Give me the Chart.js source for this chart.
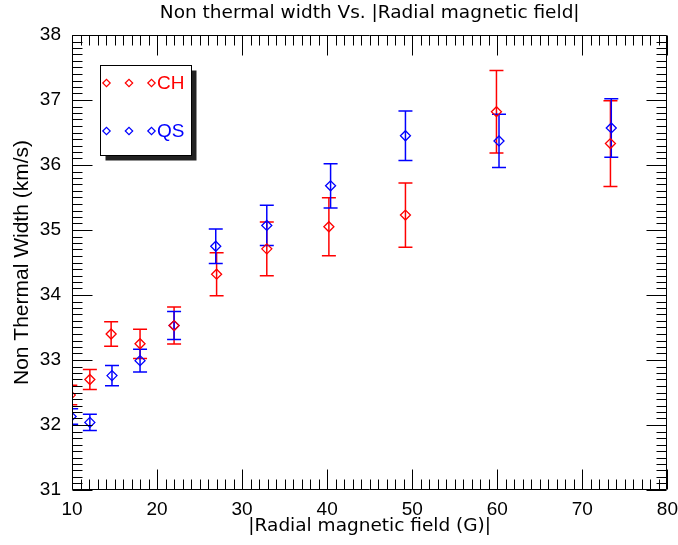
<!DOCTYPE html>
<html lang="en">

<head>
    <meta charset="UTF-8">
    <title>Non thermal width</title>
    <script src="https://cdn.jsdelivr.net/npm/chart.js"></script>
    <style>
        html, body { margin: 0; padding: 0; background: #fff; }
    </style>
</head>

<body>
    <canvas id="grafico" width="678" height="545"></canvas>

<script>
    // |B_r| (G) and non thermal width (km/s) with half error bars
    var chCampo = [9.8, 12.1, 14.6, 18.0, 22.0, 27.0, 32.9, 40.2, 49.2, 59.9, 73.3];
    var chLargura = [32.46, 32.70, 33.40, 33.25, 33.53, 34.32, 34.71, 35.05, 35.23, 36.82, 36.33];
    var chErro = [0.15, 0.155, 0.19, 0.225, 0.285, 0.33, 0.415, 0.445, 0.495, 0.635, 0.66];

    var qsCampo = [9.9, 12.1, 14.7, 18.0, 22.0, 26.9, 32.9, 40.4, 49.2, 60.2, 73.4];
    var qsLargura = [32.13, 32.04, 32.76, 32.99, 33.53, 34.75, 35.07, 35.68, 36.45, 36.37, 36.57];
    var qsErro = [0.12, 0.125, 0.155, 0.175, 0.215, 0.265, 0.31, 0.34, 0.38, 0.41, 0.45];

    var ticksX = [10, 20, 30, 40, 50, 60, 70, 80];
    var ticksY = [31, 32, 33, 34, 35, 36, 37, 38];

    var VERMELHO = '#ff0000';
    var AZUL = '#0000ff';

    function pontos(xs, ys) {
        return xs.map(function (x, i) { return { x: x, y: ys[i] }; });
    }

    function losango(ctx, x, y, r) {
        ctx.beginPath();
        ctx.moveTo(x - r, y);
        ctx.lineTo(x, y - r);
        ctx.lineTo(x + r, y);
        ctx.lineTo(x, y + r);
        ctx.closePath();
        ctx.stroke();
    }

    // barras de erro, desenhadas com as escalas do grafico
    var barrasErro = {
        id: 'barrasErro',
        beforeDatasetsDraw: function (chart) {
            var ctx = chart.ctx;
            var a = chart.chartArea;
            var sx = chart.scales.x, sy = chart.scales.y;
            ctx.save();
            ctx.beginPath();
            ctx.rect(a.left, a.top, a.right - a.left, a.bottom - a.top);
            ctx.clip();
            chart.data.datasets.forEach(function (ds) {
                ctx.strokeStyle = ds.borderColor;
                ctx.lineWidth = 1.5;
                ds.data.forEach(function (p, i) {
                    var px = sx.getPixelForValue(p.x);
                    var y1 = sy.getPixelForValue(p.y + ds.erro[i]);
                    var y2 = sy.getPixelForValue(p.y - ds.erro[i]);
                    ctx.beginPath();
                    ctx.moveTo(px, y1);
                    ctx.lineTo(px, y2);
                    ctx.moveTo(px - 7, y1);
                    ctx.lineTo(px + 7, y1);
                    ctx.moveTo(px - 7, y2);
                    ctx.lineTo(px + 7, y2);
                    ctx.stroke();
                });
            });
            ctx.restore();
        }
    };

    // moldura com tracinhos para dentro nos quatro lados
    var moldura = {
        id: 'moldura',
        afterDatasetsDraw: function (chart) {
            var ctx = chart.ctx;
            var a = chart.chartArea;
            var sx = chart.scales.x, sy = chart.scales.y;
            var l = Math.round(a.left) + 0.5, r = Math.round(a.right) - 0.5;
            var t = Math.round(a.top) + 0.5, b = Math.round(a.bottom) - 0.5;
            ctx.save();
            ctx.strokeStyle = '#000';
            ctx.lineWidth = 1;
            ctx.beginPath();
            ctx.rect(l, t, r - l, b - t);
            for (var v = 10; v <= 80; v++) {
                var px = Math.round(sx.getPixelForValue(v)) + 0.5;
                var len = (v % 10 === 0) ? 20 : 10;
                ctx.moveTo(px, b); ctx.lineTo(px, b - len);
                ctx.moveTo(px, t); ctx.lineTo(px, t + len);
            }
            for (var k = 310; k <= 380; k++) {
                var py = Math.round(sy.getPixelForValue(k / 10)) + 0.5;
                var lenY = (k % 10 === 0) ? 20 : 10;
                ctx.moveTo(l, py); ctx.lineTo(l + lenY, py);
                ctx.moveTo(r, py); ctx.lineTo(r - lenY, py);
            }
            ctx.stroke();
            ctx.restore();
        },
        afterDraw: function (chart) {
            // caixa de legenda com sombra
            var ctx = chart.ctx;
            var bx = 100.5, by = 65.5, bw = 91, bh = 90;
            ctx.save();
            ctx.fillStyle = '#222';
            ctx.fillRect(bx + 5, by + 5, bw, bh);
            ctx.fillStyle = '#fff';
            ctx.fillRect(bx, by, bw, bh);
            ctx.strokeStyle = '#000';
            ctx.lineWidth = 1;
            ctx.strokeRect(bx, by, bw, bh);
            var linhas = [
                { texto: 'CH', cor: VERMELHO, y: 83 },
                { texto: 'QS', cor: AZUL, y: 131 }
            ];
            ctx.font = '19px "Liberation Sans", Arial, sans-serif';
            ctx.textBaseline = 'middle';
            linhas.forEach(function (ln) {
                ctx.strokeStyle = ln.cor;
                ctx.lineWidth = 1.2;
                [106.5, 129, 151.5].forEach(function (x) { losango(ctx, x, ln.y, 3.7); });
                ctx.fillStyle = ln.cor;
                ctx.fillText(ln.texto, 157, ln.y + 1);
            });
            ctx.restore();
        }
    };

    const ctx = document.getElementById('grafico');

    new Chart(ctx, {
        type: 'scatter',
        data: {
            datasets: [
                {
                    label: 'CH',
                    data: pontos(chCampo, chLargura),
                    erro: chErro,
                    borderColor: VERMELHO,
                    backgroundColor: 'rgba(0,0,0,0)',
                    pointStyle: 'rectRot',
                    pointRadius: 5,
                    pointBorderWidth: 1.3,
                },
                {
                    label: 'QS',
                    data: pontos(qsCampo, qsLargura),
                    erro: qsErro,
                    borderColor: AZUL,
                    backgroundColor: 'rgba(0,0,0,0)',
                    pointStyle: 'rectRot',
                    pointRadius: 5,
                    pointBorderWidth: 1.3,
                },
            ],
        },
        options: {
            responsive: false,
            animation: false,
            devicePixelRatio: 1,
            layout: { padding: { top: 0, right: 0, bottom: 0, left: 0 } },
            plugins: {
                legend: { display: false },
                tooltip: { enabled: false },
                title: {
                    display: true,
                    fullSize: false,
                    text: 'Non thermal width Vs. |Radial magnetic field|',
                    color: '#000',
                    font: { family: '"DejaVu Sans", sans-serif', size: 18.5, weight: 'normal', lineHeight: 1.2 },
                    padding: { top: 2, bottom: 10.8 },
                },
            },
            scales: {
                x: {
                    type: 'linear',
                    min: 10,
                    max: 80,
                    afterFit: function (s) { s.height = 55; },
                    afterBuildTicks: function (s) { s.ticks = ticksX.map(function (v) { return { value: v }; }); },
                    // os tracinhos sao desenhados pela moldura; tickLength so afasta os rotulos
                    grid: { display: false, drawTicks: true, tickLength: 8 },
                    border: { display: false },
                    ticks: {
                        color: '#000',
                        padding: 0,
                        maxRotation: 0,
                        font: { family: '"Liberation Sans", Arial, sans-serif', size: 19 },
                    },
                    title: {
                        display: true,
                        text: '|Radial magnetic field (G)|',
                        color: '#000',
                        font: { family: '"DejaVu Sans", sans-serif', size: 18.5, lineHeight: 1.2 },
                        padding: { top: 0, bottom: 8 },
                    },
                },
                y: {
                    type: 'linear',
                    min: 31,
                    max: 38,
                    afterFit: function (s) { s.width = 72; },
                    afterBuildTicks: function (s) { s.ticks = ticksY.map(function (v) { return { value: v }; }); },
                    grid: { display: false, drawTicks: false },
                    border: { display: false },
                    ticks: {
                        color: '#000',
                        padding: 11,
                        font: { family: '"Liberation Sans", Arial, sans-serif', size: 19 },
                    },
                    title: {
                        display: true,
                        text: 'Non Thermal Width (km/s)',
                        color: '#000',
                        font: { family: '"Liberation Sans", Arial, sans-serif', size: 21, lineHeight: 1.2 },
                        padding: { top: 10, bottom: 0 },
                    },
                },
            },
        },
        plugins: [barrasErro, moldura],
    });
</script>
</body>

</html>
